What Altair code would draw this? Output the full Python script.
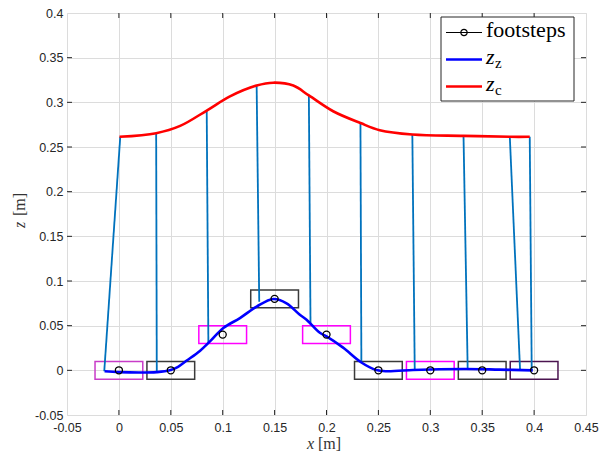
import altair as alt
import pandas as pd

# ---------------- data ----------------
x_ticks = [-0.05, 0, 0.05, 0.1, 0.15, 0.2, 0.25, 0.3, 0.35, 0.4, 0.45]
y_ticks = [-0.05, 0, 0.05, 0.1, 0.15, 0.2, 0.25, 0.3, 0.35, 0.4]

foot_x = [0, 0.05, 0.1, 0.15, 0.2, 0.25, 0.3, 0.35, 0.4]
foot_z = [0, 0, 0.04, 0.08, 0.04, 0, 0, 0, 0]
foot_color = ["#c83cc8", "#3a3a3a", "#ff00ff", "#3a3a3a", "#ff00ff",
              "#3a3a3a", "#ff00ff", "#3a3a3a", "#4b1450"]
foot_half_len = 0.023
foot_half_h = 0.01

zz_x = [-0.0138, 0.0, 0.02, 0.0365, 0.049, 0.057, 0.065, 0.078, 0.088, 0.1006,
        0.1166, 0.1327, 0.1487, 0.1615, 0.1743, 0.1808, 0.1936, 0.2, 0.216,
        0.2336, 0.248, 0.2577, 0.2833, 0.2993, 0.3346, 0.3666, 0.3987]
zz_z = [-0.001, -0.002, -0.0025, -0.002, 0.0, 0.004, 0.0107, 0.0217, 0.0327, 0.0474,
        0.0585, 0.0713, 0.0798, 0.075, 0.0622, 0.0567, 0.042, 0.038, 0.0254,
        0.0088, 0.0004, -0.001, 0.0004, 0.001, 0.0015, 0.0008, 0.0]

zc_x = [0.0006, 0.0359, 0.059, 0.0846, 0.107, 0.1327, 0.1487, 0.168, 0.183,
        0.2064, 0.2327, 0.2513, 0.2827, 0.332, 0.3766, 0.3958]
zc_z = [0.2614, 0.2655, 0.2736, 0.2908, 0.3066, 0.3188, 0.322, 0.3188, 0.3077,
        0.290, 0.2768, 0.2688, 0.264, 0.2625, 0.2614, 0.2614]

pend_bx = [-0.0141, 0.0365, 0.0862, 0.1352, 0.1846, 0.2336, 0.285, 0.336, 0.3865, 0.3977]
pend_bz = [-0.001, -0.002, 0.031, 0.0769, 0.0512, 0.0088, 0.0004, 0.0015, 0.0, 0.0]
pend_tx = [0.0013, 0.0359, 0.0846, 0.1327, 0.183, 0.2327, 0.2827, 0.332, 0.3766, 0.3958]
pend_tz = [0.2614, 0.2655, 0.2908, 0.3188, 0.3077, 0.2768, 0.264, 0.2625, 0.2614, 0.2614]

# ---------------- layout ----------------
W, H = 519, 402
TOP = 5
AXC = "#262626"
SANS = "Liberation Sans"
SERIF = "Liberation Serif"

xs = alt.Scale(domain=[-0.05, 0.45], nice=False, zero=False)
ys = alt.Scale(domain=[-0.05, 0.4], nice=False, zero=False)
lbl = "replace(format(datum.value, '~g'), '\u2212', '-')"
xaxis = alt.Axis(values=x_ticks, grid=True, ticks=False, domain=False, title="",
                 labelExpr=lbl, labelFont=SANS, labelFontSize=12.5, labelColor=AXC,
                 labelPadding=6, labelFlush=False, labelOverlap=False,
                 gridColor="#dcdcdc", gridWidth=1)
yaxis = alt.Axis(values=y_ticks, grid=True, ticks=False, domain=False, title="",
                 labelExpr=lbl, labelFont=SANS, labelFontSize=12.5, labelColor=AXC,
                 labelPadding=4, labelFlush=False, labelOverlap=False,
                 gridColor="#dcdcdc", gridWidth=1)

feet = pd.DataFrame({"x": foot_x, "z": foot_z, "c": foot_color})
zz = pd.DataFrame({"x": zz_x, "z": zz_z})
zc = pd.DataFrame({"x": zc_x, "z": zc_z})
pend = pd.DataFrame({"bx": pend_bx, "bz": pend_bz, "tx": pend_tx, "tz": pend_tz})
xt = pd.DataFrame({"v": x_ticks[1:-1]})
yt = pd.DataFrame({"v": y_ticks[1:-1]})
one = pd.DataFrame({"a": [0]})

boxes = alt.Chart(feet).transform_calculate(
    x1=f"datum.x - {foot_half_len}", x2=f"datum.x + {foot_half_len}",
    y1=f"datum.z - {foot_half_h}", y2=f"datum.z + {foot_half_h}"
).mark_rect(fillOpacity=0, strokeWidth=1.5).encode(
    x=alt.X("x1:Q", scale=xs, axis=xaxis), x2="x2:Q",
    y=alt.Y("y1:Q", scale=ys, axis=yaxis), y2="y2:Q",
    stroke=alt.Stroke("c:N", scale=None),
)

pends = alt.Chart(pend).mark_rule(color="#0072bd", strokeWidth=1.8).encode(
    x=alt.X("bx:Q", scale=xs, axis=xaxis), x2="tx:Q",
    y=alt.Y("bz:Q", scale=ys, axis=yaxis), y2="tz:Q",
)

zz_line = alt.Chart(zz).mark_line(color="#0000ff", strokeWidth=2.6, interpolate="catmull-rom").encode(
    x=alt.X("x:Q", scale=xs, axis=xaxis), y=alt.Y("z:Q", scale=ys, axis=yaxis), order="x:Q")
zc_line = alt.Chart(zc).mark_line(color="#ff0000", strokeWidth=2.6, interpolate="catmull-rom").encode(
    x=alt.X("x:Q", scale=xs, axis=xaxis), y=alt.Y("z:Q", scale=ys, axis=yaxis), order="x:Q")

steps = alt.Chart(feet).mark_point(shape="circle", filled=False, color="black",
                                   size=50, strokeWidth=1.3, opacity=1).encode(
    x=alt.X("x:Q", scale=xs, axis=xaxis), y=alt.Y("z:Q", scale=ys, axis=yaxis))

# inward ticks on all four sides
tb = alt.Chart(xt).mark_rule(color=AXC, strokeWidth=1).encode(
    x=alt.X("v:Q", scale=xs, axis=xaxis), y=alt.value(H), y2=alt.value(H - 5))
tt = alt.Chart(xt).mark_rule(color=AXC, strokeWidth=1).encode(
    x=alt.X("v:Q", scale=xs, axis=xaxis), y=alt.value(0), y2=alt.value(5))
tl = alt.Chart(yt).mark_rule(color=AXC, strokeWidth=1).encode(
    y=alt.Y("v:Q", scale=ys, axis=yaxis), x=alt.value(0), x2=alt.value(5))
tr = alt.Chart(yt).mark_rule(color=AXC, strokeWidth=1).encode(
    y=alt.Y("v:Q", scale=ys, axis=yaxis), x=alt.value(W), x2=alt.value(W - 5))

# axis titles
def txt(s, x, y, size, style="normal", angle=0, color="#333333", font=SERIF):
    return alt.Chart(one).mark_text(text=s, font=font, fontSize=size, fontStyle=style,
                                    align="left", baseline="alphabetic", angle=angle,
                                    color=color).encode(x=alt.value(x), y=alt.value(y))

xtitle = txt("x", 240, H + 34, 16, "italic") + txt("[m]", 251, H + 34, 16)
ytitle = txt("z", -42, 215, 16, "italic", 270) + txt("[m]", -42, 203, 16, angle=270)

# legend (positions in plot pixels)
L = -TOP
leg_box = alt.Chart(one).mark_rect(fill="white", stroke=AXC, strokeWidth=1).encode(
    x=alt.value(374), x2=alt.value(507), y=alt.value(9 + L), y2=alt.value(93 + L))
def leg_line(y, color, w):
    return alt.Chart(one).mark_rule(color=color, strokeWidth=w).encode(
        x=alt.value(379), x2=alt.value(415), y=alt.value(y + L))
leg_circle = alt.Chart(one).mark_point(shape="circle", filled=False, color="black",
                                       size=40, strokeWidth=1.2, opacity=1).encode(
    x=alt.value(397), y=alt.value(24.5 + L))
legend = (leg_box + leg_line(24.5, "black", 1) + leg_circle
          + txt("footsteps", 419, 29 + L, 22, color="black")
          + leg_line(51.5, "#0000ff", 2.6)
          + txt("z", 419, 56 + L, 22, "italic", color="black")
          + txt("z", 428, 60 + L, 15, color="black")
          + leg_line(78.5, "#ff0000", 2.6)
          + txt("z", 419, 83 + L, 22, "italic", color="black")
          + txt("c", 428, 87 + L, 15, color="black"))

chart = alt.layer(
    boxes, pends, zz_line, zc_line, steps, tb, tt, tl, tr, xtitle, ytitle, legend
).properties(
    width=W, height=H,
    autosize=alt.AutoSizeParams(type="none"),
    padding={"left": 59, "top": TOP, "right": 16, "bottom": 40},
).configure_view(stroke=AXC, strokeWidth=1).configure(background="white")

chart.save("out.html", embed_options={"renderer": "svg", "actions": False})
